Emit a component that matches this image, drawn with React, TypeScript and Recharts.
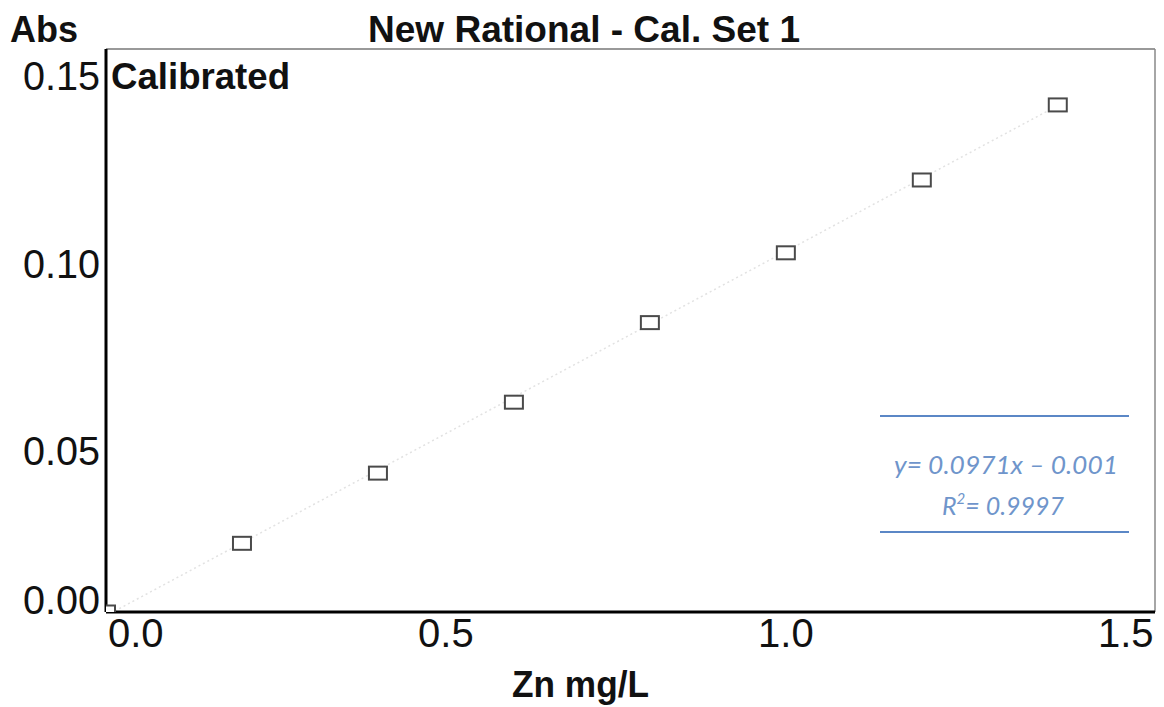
import { ReferenceLine, Scatter, ScatterChart, XAxis, YAxis } from "recharts";

// Zn standards (mg/L) and their measured absorbance
const concentrations = [0, 0.2, 0.4, 0.6, 0.8, 1.0, 1.2, 1.4];
const absorbances = [0, 0.0183, 0.037, 0.0559, 0.0771, 0.0957, 0.1151, 0.1351];

const xTicks = [0, 0.5, 1.0, 1.5];
const yTicks = [0, 0.05, 0.1, 0.15];
const xMax = 1.543;
const yMax = 0.15;

// fitted line as printed on the figure
const slope = 0.0971;
const intercept = -0.001;
const fitEnds = [0, 1.4];

const points = concentrations.map((c, i) => ({ x: c, y: absorbances[i] }));

const font = "'Liberation Sans', Arial, sans-serif";
const eqFont = "Lato, 'Open Sans', sans-serif";

const XTick = (props: any) => {
  const { x, y, payload } = props;
  const first = payload.value === 0;
  return (
    <text x={first ? x + 2 : x} y={y + 35} textAnchor={first ? "start" : "middle"} fontSize={40} fontFamily={font} fill="#111">
      {payload.value.toFixed(1)}
    </text>
  );
};

const YTick = (props: any) => {
  const { x, y, payload } = props;
  const dy = payload.value === 0 ? 2 : 41;
  return (
    <text x={x - 6} y={y + dy} textAnchor="end" fontSize={40} fontFamily={font} fill="#111" textLength={77} lengthAdjust="spacingAndGlyphs">
      {payload.value.toFixed(2)}
    </text>
  );
};

const Square = (props: any) => {
  const { cx, cy } = props;
  return <rect x={cx - 9} y={cy - 6.5} width={18} height={13} fill="#fff" stroke="#4a4a4a" strokeWidth={2} />;
};

export default function App() {
  return (
    <div style={{ position: "absolute", left: 0, top: 0, width: 1164, height: 707, background: "#fff" }}>
      <ScatterChart width={1164} height={707} margin={{ top: 49, right: 9, bottom: 45, left: 0 }}>
        <XAxis
          type="number"
          dataKey="x"
          domain={[0, xMax]}
          ticks={xTicks}
          height={50}
          tickSize={0}
          tickMargin={0}
          tickLine={false}
          tick={<XTick />}
          axisLine={{ stroke: "#000", strokeWidth: 3 }}
          allowDataOverflow
        />
        <YAxis
          type="number"
          dataKey="y"
          domain={[0, yMax]}
          ticks={yTicks}
          width={106}
          tickSize={0}
          tickMargin={0}
          tickLine={false}
          tick={<YTick />}
          axisLine={{ stroke: "#000", strokeWidth: 3 }}
          allowDataOverflow
        />
        <ReferenceLine y={yMax} stroke="#777" strokeWidth={1.5} />
        <ReferenceLine x={xMax} stroke="#888" strokeWidth={1.5} />
        <ReferenceLine
          segment={fitEnds.map((c) => ({ x: c, y: slope * c + intercept }))}
          stroke="#e2e2e2"
          strokeWidth={1.5}
          strokeDasharray="2 3"
          ifOverflow="hidden"
        />
        <Scatter data={points} shape={<Square />} isAnimationActive={false} />
      </ScatterChart>
      <svg width={1164} height={707} style={{ position: "absolute", left: 0, top: 0, pointerEvents: "none" }}>
        <text x={10} y={42} fontSize={36} fontWeight="bold" fontFamily={font} fill="#111" textLength={68} lengthAdjust="spacingAndGlyphs">
          Abs
        </text>
        <text x={368} y={42} fontSize={36} fontWeight="bold" fontFamily={font} fill="#111" textLength={432} lengthAdjust="spacingAndGlyphs">
          New Rational - Cal. Set 1
        </text>
        <text x={111} y={89} fontSize={36} fontWeight="bold" fontFamily={font} fill="#111" textLength={179} lengthAdjust="spacingAndGlyphs">
          Calibrated
        </text>
        <text x={512} y={697} fontSize={36} fontWeight="bold" fontFamily={font} fill="#111" textLength={137} lengthAdjust="spacingAndGlyphs">
          Zn mg/L
        </text>
        <line x1={880} x2={1129} y1={416} y2={416} stroke="#5b87c6" strokeWidth={2} />
        <line x1={880} x2={1129} y1={532} y2={532} stroke="#5b87c6" strokeWidth={2} />
        <text x={894} y={474} fontSize={25} fontStyle="italic" fontFamily={eqFont} fill="#6f95cb" textLength={224} lengthAdjust="spacingAndGlyphs">
          y= 0.0971x – 0.001
        </text>
        <text x={942} y={515} fontSize={25} fontStyle="italic" fontFamily={eqFont} fill="#6f95cb">
          R<tspan fontSize={15} dy={-11}>2</tspan>
          <tspan dy={11}>= 0.9997</tspan>
        </text>
      </svg>
    </div>
  );
}
